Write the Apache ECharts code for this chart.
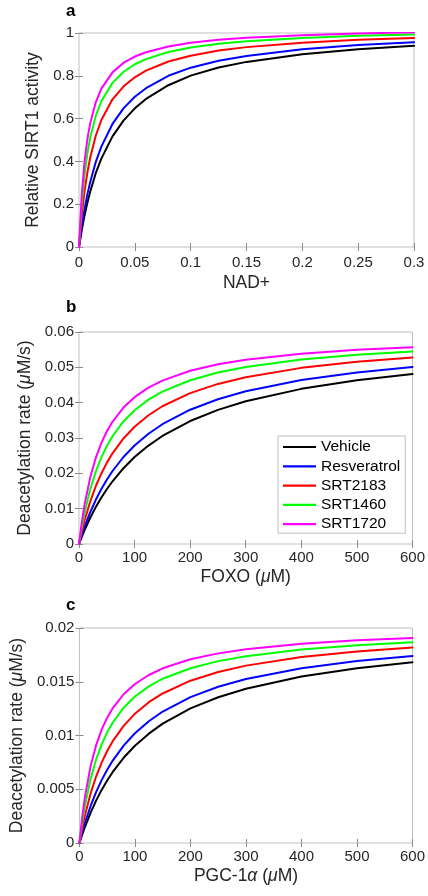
<!DOCTYPE html>
<html>
<head>
<meta charset="utf-8">
<script src="https://cdn.jsdelivr.net/npm/echarts@6/dist/echarts.min.js"></script>
<style>
html,body{margin:0;padding:0;background:#fff;}
#chart{width:428px;height:896px;}
</style>
</head>
<body>
<div id="chart"></div>
<script>
// ---------- data ----------
const seriesNames = ['Vehicle', 'Resveratrol', 'SRT2183', 'SRT1460', 'SRT1720'];
const seriesColors = ['#000000', '#0000ff', '#ff0000', '#00ff00', '#ff00ff'];

// panel a: NAD+
const xNAD = [0, 0.0025, 0.005, 0.0075, 0.01, 0.015, 0.02, 0.03, 0.04, 0.05, 0.06, 0.08, 0.1, 0.125, 0.15, 0.2, 0.25, 0.3];
const aVehicle     = [0, 0.080, 0.148, 0.207, 0.258, 0.345, 0.413, 0.517, 0.592, 0.648, 0.692, 0.756, 0.801, 0.839, 0.865, 0.901, 0.924, 0.940];
const aResveratrol = [0, 0.098, 0.178, 0.246, 0.303, 0.397, 0.469, 0.575, 0.649, 0.702, 0.742, 0.800, 0.838, 0.870, 0.893, 0.924, 0.944, 0.957];
const aSRT2183     = [0, 0.150, 0.262, 0.348, 0.417, 0.520, 0.593, 0.690, 0.751, 0.793, 0.824, 0.867, 0.894, 0.918, 0.934, 0.955, 0.968, 0.977];
const aSRT1460     = [0, 0.203, 0.339, 0.437, 0.510, 0.613, 0.681, 0.767, 0.819, 0.854, 0.878, 0.911, 0.932, 0.950, 0.962, 0.977, 0.987, 0.993];
const aSRT1720     = [0, 0.249, 0.401, 0.504, 0.577, 0.676, 0.740, 0.816, 0.861, 0.890, 0.910, 0.937, 0.954, 0.968, 0.978, 0.990, 0.998, 1.003];

// panels b and c: substrate concentration (uM)
const xSub = [0, 5, 10, 20, 30, 40, 50, 60, 80, 100, 125, 150, 200, 250, 300, 400, 500, 600];
// panel b: FOXO
const bVehicle     = [0, 0.00203, 0.00392, 0.00735, 0.01039, 0.01309, 0.01550, 0.01768, 0.02145, 0.02460, 0.02786, 0.03057, 0.03480, 0.03795, 0.04038, 0.04391, 0.04633, 0.04810];
const bResveratrol = [0, 0.00251, 0.00482, 0.00892, 0.01244, 0.01551, 0.01820, 0.02059, 0.02462, 0.02789, 0.03121, 0.03390, 0.03800, 0.04097, 0.04322, 0.04641, 0.04856, 0.05011];
const bSRT2183     = [0, 0.00351, 0.00663, 0.01193, 0.01628, 0.01990, 0.02296, 0.02559, 0.02987, 0.03320, 0.03644, 0.03899, 0.04271, 0.04531, 0.04722, 0.04985, 0.05158, 0.05280];
const bSRT1460     = [0, 0.00475, 0.00881, 0.01535, 0.02041, 0.02443, 0.02770, 0.03042, 0.03468, 0.03786, 0.04085, 0.04313, 0.04635, 0.04853, 0.05010, 0.05221, 0.05356, 0.05450];
const bSRT1720     = [0, 0.00612, 0.01110, 0.01872, 0.02428, 0.02851, 0.03184, 0.03453, 0.03861, 0.04155, 0.04425, 0.04625, 0.04902, 0.05085, 0.05215, 0.05387, 0.05495, 0.05570];
// panel c: PGC-1alpha
const cVehicle     = [0, 0.00078, 0.00151, 0.00281, 0.00394, 0.00494, 0.00582, 0.00661, 0.00795, 0.00905, 0.01017, 0.01110, 0.01252, 0.01356, 0.01435, 0.01548, 0.01626, 0.01681];
const cResveratrol = [0, 0.00098, 0.00187, 0.00342, 0.00473, 0.00585, 0.00682, 0.00767, 0.00908, 0.01021, 0.01133, 0.01223, 0.01357, 0.01453, 0.01525, 0.01625, 0.01692, 0.01740];
const cSRT2183     = [0, 0.00138, 0.00259, 0.00459, 0.00618, 0.00748, 0.00856, 0.00947, 0.01092, 0.01203, 0.01310, 0.01391, 0.01510, 0.01591, 0.01650, 0.01730, 0.01782, 0.01818];
const cSRT1460     = [0, 0.00190, 0.00348, 0.00594, 0.00776, 0.00917, 0.01029, 0.01121, 0.01261, 0.01363, 0.01457, 0.01528, 0.01626, 0.01692, 0.01738, 0.01800, 0.01840, 0.01867];
const cSRT1720     = [0, 0.00242, 0.00432, 0.00712, 0.00909, 0.01054, 0.01166, 0.01254, 0.01386, 0.01479, 0.01563, 0.01625, 0.01709, 0.01764, 0.01803, 0.01853, 0.01885, 0.01907];

// axis ticks
const xTicksA = [0, 0.3, 0.05];   // min, max, interval
const yTicksA = [0, 1, 0.2];
const xTicksBC = [0, 600, 100];
const yTicksB = [0, 0.06, 0.01];
const yTicksC = [0, 0.02, 0.005];

const panelLetters = ['a', 'b', 'c'];
const xNames = ['NAD+', 'FOXO ({i|μ}M)', 'PGC-1{i|α} ({i|μ}M)'];
const yNames = ['Relative SIRT1 activity', 'Deacetylation rate ({i|μ}M/s)', 'Deacetylation rate ({i|μ}M/s)'];

// ---------- chart ----------
const FONT = '"Liberation Sans", Arial, Helvetica, sans-serif';
const TXT = '#262626';
const BOX = '#bfbfbf';

const grids = [
  {left: 79, width: 335, top: 33, height: 214},
  {left: 79, width: 335, top: 332, height: 212},
  {left: 79, width: 335, top: 628, height: 215}
];
const xCfg = [xTicksA, xTicksBC, xTicksBC];
const yCfg = [yTicksA, yTicksB, yTicksC];
const xNameGap = [27, 24, 24];
const xLabelMargin = [8, 6, 6];
const yNameGap = [31, 40, 50];

const rich = {i: {fontStyle: 'italic', fontSize: 17.5, fontFamily: FONT, color: TXT}};

const xAxes = [], yAxes = [];
grids.forEach((g, i) => {
  g.show = true; g.borderColor = BOX; g.borderWidth = 1; g.containLabel = false;
  const [xmin, xmax, xint] = xCfg[i];
  const [ymin, ymax, yint] = yCfg[i];
  xAxes.push({
    type: 'value', gridIndex: i, min: xmin, max: xmax, interval: xint,
    name: xNames[i], nameLocation: 'middle', nameGap: xNameGap[i],
    nameTextStyle: {fontSize: 17.5, fontFamily: FONT, color: TXT, rich: rich},
    axisLine: {show: false},
    axisTick: {show: true, inside: true, length: 4, lineStyle: {color: '#8c8c8c'}},
    axisLabel: {fontSize: 15, fontFamily: FONT, color: TXT, margin: xLabelMargin[i]},
    splitLine: {show: false}
  });
  xAxes.push({
    type: 'value', gridIndex: i, min: xmin, max: xmax, interval: xint, position: 'top',
    axisLine: {show: false},
    axisTick: {show: true, inside: true, length: 4, lineStyle: {color: '#8c8c8c'}},
    axisLabel: {show: false}, splitLine: {show: false}
  });
  yAxes.push({
    type: 'value', gridIndex: i, min: ymin, max: ymax, interval: yint,
    name: yNames[i], nameLocation: 'middle', nameGap: yNameGap[i], nameRotate: 90,
    nameTextStyle: {fontSize: 17.5, fontFamily: FONT, color: TXT, rich: rich},
    axisLine: {show: false},
    axisTick: {show: true, inside: true, length: 4, lineStyle: {color: '#8c8c8c'}},
    axisLabel: {fontSize: 15, fontFamily: FONT, color: TXT, margin: 5},
    splitLine: {show: false}
  });
  yAxes.push({
    type: 'value', gridIndex: i, min: ymin, max: ymax, interval: yint, position: 'right',
    axisLine: {show: false},
    axisTick: {show: true, inside: true, length: 4, lineStyle: {color: '#8c8c8c'}},
    axisLabel: {show: false}, splitLine: {show: false}
  });
});

const panelData = [
  [xNAD, [aVehicle, aResveratrol, aSRT2183, aSRT1460, aSRT1720]],
  [xSub, [bVehicle, bResveratrol, bSRT2183, bSRT1460, bSRT1720]],
  [xSub, [cVehicle, cResveratrol, cSRT2183, cSRT1460, cSRT1720]]
];

const series = [];
panelData.forEach(([xs, ys], p) => {
  ys.forEach((vals, k) => {
    series.push({
      type: 'line', name: seriesNames[k],
      xAxisIndex: p * 2, yAxisIndex: p * 2,
      data: xs.map((x, j) => [x, vals[j]]),
      smooth: false,
      showSymbol: false, symbol: 'none',
      lineStyle: {color: seriesColors[k], width: 2, join: 'round', cap: 'round'},
      itemStyle: {color: seriesColors[k]},
      z: 2 + k, animation: false
    });
  });
});

const titleTops = [3, 299, 597];
const option = {
  backgroundColor: '#fff',
  animation: false,
  title: panelLetters.map((t, i) => ({
    text: t, left: 66, top: titleTops[i], padding: 0,
    textStyle: {fontSize: 17, fontWeight: 'bold', fontFamily: FONT, color: '#000'}
  })),
  legend: {
    data: seriesNames, orient: 'vertical',
    left: 278, top: 436,
    padding: [3, 5, 1, 5], itemGap: 3.3,
    itemWidth: 33, itemHeight: 2.2, icon: 'rect', itemTextGap: 5,
    borderColor: '#bfbfbf', borderWidth: 1, backgroundColor: '#fff',
    textStyle: {fontSize: 15.5, fontFamily: FONT, color: '#000', lineHeight: 16}
  },
  grid: grids,
  xAxis: xAxes,
  yAxis: yAxes,
  series: series
};

const chart = echarts.init(document.getElementById('chart'), null, {renderer: 'canvas'});
chart.setOption(option);
</script>
</body>
</html>
